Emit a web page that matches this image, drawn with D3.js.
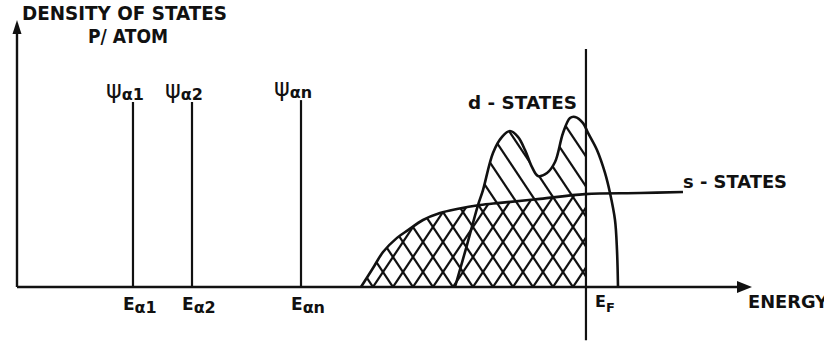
<!DOCTYPE html>
<html>
<head>
<meta charset="utf-8">
<script src="https://cdn.jsdelivr.net/npm/d3@7"></script>
<style>
  html, body { margin: 0; padding: 0; background: #fff; }
  svg { display: block; }
  text { font-family: "DejaVu Sans", "Liberation Sans", sans-serif; font-weight: bold; fill: #111; }
</style>
</head>
<body>
<svg id="chart" width="824" height="343"></svg>
<script>
// Energy (arbitrary units) of the localized impurity levels and their peak heights
const levelNames   = ["α1", "α2", "αn"];
const levelEnergy  = [15.78, 23.81, 38.64];
const levelDensity = [69.3, 69.3, 70.0];

// Fermi energy
const fermiEnergy = 77.41;

// s-band density of states: [energy, density]
const sEnergy  = [46.80, 48.44, 49.80, 51.70, 53.20, 55.24, 57.55, 59.86, 62.99, 65.71, 71.16, 77.28, 84.76, 90.61];
const sDensity = [0,     7.1,   13.1,  18.4,  21.3,  25.1,  27.7,  29.2,  30.7,  31.5,  33.0,  34.8,  35.2,  35.6];

// d-band density of states: [energy, density]
const dEnergy  = [59.59, 61.22, 62.72, 63.40, 64.76, 65.99, 67.07, 68.16, 69.12, 70.07, 70.88, 72.11, 73.20, 74.29, 75.24, 75.92, 77.01, 77.69, 78.91, 80.00, 80.68, 81.36, 81.63, 81.77];
const dDensity = [0,     15.7,  30.7,  36.3,  50.2,  56.2,  58.4,  56.2,  51.3,  44.9,  41.6,  42.7,  46.8,  57.7,  63.3,  63.7,  61.4,  57.7,  51.3,  42.7,  35.2,  25.1,  13.9,  0];

const svg = d3.select("#chart");
const ink = "#111";

const x = d3.scaleLinear().domain([0, 100]).range([17, 752]);
const y = d3.scaleLinear().domain([0, 100]).range([287, 20]);

const sPts = sEnergy.map((e, i) => [e, sDensity[i]]);
const dPts = dEnergy.map((e, i) => [e, dDensity[i]]);

const curve = d3.line().x(d => x(d[0])).y(d => y(d[1])).curve(d3.curveCatmullRom.alpha(0.5));
const area = d3.area().x(d => x(d[0])).y0(y(0)).y1(d => y(d[1])).curve(d3.curveCatmullRom.alpha(0.5));

const defs = svg.append("defs");
defs.append("clipPath").attr("id", "belowFermi")
  .append("rect").attr("x", 0).attr("y", 0).attr("width", x(fermiEnergy)).attr("height", y(0));
defs.append("clipPath").attr("id", "sBand")
  .append("path").attr("d", area(sPts));
const both = defs.append("clipPath").attr("id", "sdBands");
both.append("path").attr("d", area(sPts));
both.append("path").attr("d", area(dPts));

// Hatching: "\" strokes over both bands, "/" strokes over the s band (cross-hatch)
const step = 20, slope = 1.5, h = 320;
const anchors = d3.range(-20, 30).map(k => x(fermiEnergy) - 13 - step * k);
const hatch = svg.append("g").attr("clip-path", "url(#belowFermi)");
hatch.append("g").attr("clip-path", "url(#sdBands)")
  .selectAll("line").data(anchors).join("line")
  .attr("x1", b => b - h / slope).attr("y1", y(0) - h)
  .attr("x2", b => b + 20 / slope).attr("y2", y(0) + 20)
  .attr("stroke", ink).attr("stroke-width", 2.2);
hatch.append("g").attr("clip-path", "url(#sBand)")
  .selectAll("line").data(anchors).join("line")
  .attr("x1", b => b + h / slope).attr("y1", y(0) - h)
  .attr("x2", b => b - 20 / slope).attr("y2", y(0) + 20)
  .attr("stroke", ink).attr("stroke-width", 2.2);

// Band outlines
svg.append("path").attr("d", curve(sPts)).attr("fill", "none").attr("stroke", ink).attr("stroke-width", 2.6);
svg.append("path").attr("d", curve(dPts)).attr("fill", "none").attr("stroke", ink).attr("stroke-width", 2.6);

// Localized levels
svg.selectAll("line.level").data(levelEnergy).join("line").attr("class", "level")
  .attr("x1", d => x(d)).attr("x2", d => x(d))
  .attr("y1", y(0)).attr("y2", (d, i) => y(levelDensity[i]))
  .attr("stroke", ink).attr("stroke-width", 2.2);

// Fermi level
svg.append("line")
  .attr("x1", x(fermiEnergy)).attr("x2", x(fermiEnergy))
  .attr("y1", y(89.1)).attr("y2", y(-19.9))
  .attr("stroke", ink).attr("stroke-width", 2.2);

// Axes
svg.append("line").attr("x1", x(0)).attr("x2", x(0)).attr("y1", y(0)).attr("y2", 30)
  .attr("stroke", ink).attr("stroke-width", 2.4);
svg.append("path").attr("d", `M${x(0)},20 L${x(0) - 4.5},34 L${x(0) + 4.5},34 Z`).attr("fill", ink);
svg.append("line").attr("x1", x(0)).attr("x2", 742).attr("y1", y(0)).attr("y2", y(0))
  .attr("stroke", ink).attr("stroke-width", 2.4);
svg.append("path").attr("d", `M${x(100)},${y(0)} L737,${y(0) - 6} L737,${y(0) + 6} Z`).attr("fill", ink);

// Axis titles
svg.append("text").attr("x", 22).attr("y", 20).attr("font-size", 20)
  .attr("textLength", 205).attr("lengthAdjust", "spacingAndGlyphs").text("DENSITY OF STATES");
svg.append("text").attr("x", 88).attr("y", 43).attr("font-size", 20)
  .attr("textLength", 80).attr("lengthAdjust", "spacingAndGlyphs").text("P/ ATOM");
svg.append("text").attr("x", 748).attr("y", 308).attr("font-size", 17)
  .attr("textLength", 80).attr("lengthAdjust", "spacingAndGlyphs").text("ENERGY");

// Band labels
svg.append("text").attr("x", 468).attr("y", 109).attr("font-size", 18)
  .attr("textLength", 109).attr("lengthAdjust", "spacingAndGlyphs").text("d - STATES");
svg.append("text").attr("x", 683).attr("y", 188).attr("font-size", 18)
  .attr("textLength", 104).attr("lengthAdjust", "spacingAndGlyphs").text("s - STATES");

// Level labels above and below
levelNames.forEach((name, i) => {
  const t = svg.append("text").attr("x", x(levelEnergy[i]) - 27).attr("y", y(levelDensity[i]) - 4);
  t.append("tspan").attr("font-size", 24).attr("font-weight", "normal").text("ψ");
  t.append("tspan").attr("font-size", 16).attr("dy", 2).text(name);
  const b = svg.append("text").attr("x", x(levelEnergy[i]) - 10).attr("y", 310);
  b.append("tspan").attr("font-size", 17).text("E");
  b.append("tspan").attr("font-size", 16).attr("dy", 3).text(name);
});

// Fermi energy label
const ef = svg.append("text").attr("x", x(fermiEnergy) + 9).attr("y", 307);
ef.append("tspan").attr("font-size", 16).text("E");
ef.append("tspan").attr("font-size", 13).attr("dy", 5).text("F");
</script>
</body>
</html>
